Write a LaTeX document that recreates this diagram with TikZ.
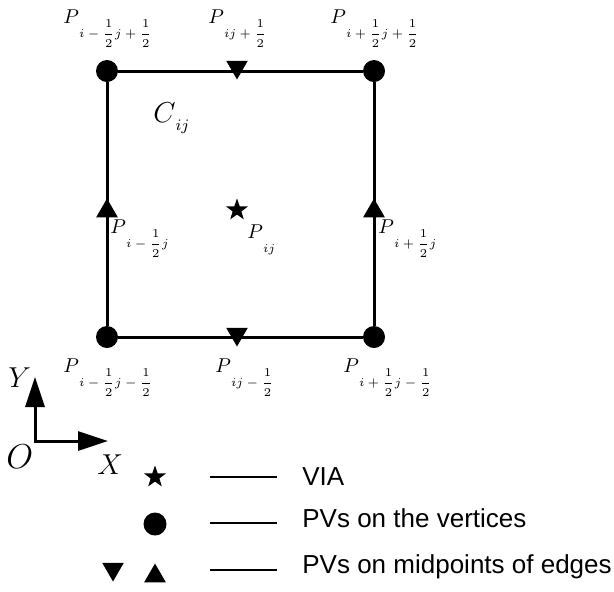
\documentclass[tikz,border=0pt]{standalone}
\usepackage{amsmath}
\usepackage{fontspec}
\setsansfont{Liberation Sans}
\usetikzlibrary{shapes.geometric,arrows.meta,calc}

\newcommand{\pv}[1]{$P\raisebox{-7pt}{\fontsize{6}{7}\selectfont$#1$}$}
\newcommand{\hf}{\dfrac{1}{2}}

\tikzset{
  vertex/.style={circle,fill=black,inner sep=0pt,minimum size=11pt},
  midup/.style={regular polygon,regular polygon sides=3,fill=black,inner sep=0pt,minimum size=12.5pt},
  middown/.style={midup,shape border rotate=180},
  via/.style={star,star points=5,star point ratio=2.5,fill=black,inner sep=0pt,minimum size=11.5pt},
  side/.style={line width=1.5pt},
  axis/.style={line width=1.5pt,{Triangle[length=15pt,width=9.5pt]}-{Triangle[length=15pt,width=9.5pt]}},
  plabel/.style={anchor=base west,inner sep=0pt,font=\fontsize{10}{12}\selectfont},
  axlabel/.style={anchor=base west,inner sep=0pt,font=\fontsize{14}{16}\selectfont},
  legline/.style={line width=1pt},
  legtext/.style={anchor=base west,inner sep=0pt,font=\sffamily\fontsize{13}{15}\selectfont}
}

\begin{document}
\begin{tikzpicture}[x=0.5pt,y=-0.5pt]
\useasboundingbox (0,0) rectangle (614,591);

% corners of the cell
\node[vertex] (vtl) at (107,71) {};
\node[vertex] (vtr) at (374,71) {};
\node[vertex] (vbl) at (107,337) {};
\node[vertex] (vbr) at (374,337) {};
\draw[side] (vtl) -- (vtr);
\draw[side] (vtr) -- (vbr);
\draw[side] (vbr) -- (vbl);
\draw[side] (vbl) -- (vtl);

% midpoints of the edges and the centre
\node[middown] (mt) at (237,67) {};
\node[middown] (mb) at (237,334) {};
\node[midup] (ml) at (107,211) {};
\node[midup] (mr) at (374,211) {};
\node[via] (cen) at (237,210) {};

% labels
\node[plabel] (ltl) at (63,23) {\pv{i-\hf j+\hf}};
\node[plabel] (ltm) at (208,23) {\pv{ij+\hf}};
\node[plabel] (ltr) at (330,23) {\pv{i+\hf j+\hf}};
\node[plabel] (lml) at (110,233) {\pv{i-\hf j}};
\node[plabel] (lcen) at (247,238) {\pv{ij}};
\node[plabel] (lmr) at (378,233) {\pv{i+\hf j}};
\node[plabel] (lbl) at (63,372) {\pv{i-\hf j-\hf}};
\node[plabel] (lbm) at (215,372) {\pv{ij-\hf}};
\node[plabel] (lbr) at (343,372) {\pv{i+\hf j-\hf}};
\node[anchor=base west,inner sep=0pt,font=\fontsize{15}{18}\selectfont] (cell) at (153,122) {$C\raisebox{-4pt}{\footnotesize$ij$}$};

% axes
\coordinate (O) at (35,441);
\coordinate (Ytip) at (35,377);
\coordinate (Xtip) at (108,441);
\draw[axis] (Ytip) -- (O) -- (Xtip);
\node[axlabel] (ly) at (8,387) {$Y$};
\node[axlabel,font=\fontsize{16}{18}\selectfont] (lo) at (6,468) {$O$};
\node[axlabel] (lx) at (97,474) {$X$};

% legend
\node[via] (kvia) at (155,477) {};
\node[vertex,minimum size=11.5pt] (kvert) at (155,524) {};
\node[middown] (kdown) at (113,569) {};
\node[midup] (kup) at (155,576) {};
\foreach \ly/\by/\txt [count=\k] in {477/485/VIA, 523/527/PVs on the vertices, 570/573/PVs on midpoints of edges} {
  \coordinate (ka\k) at (210,\ly);
  \coordinate (kb\k) at (277,\ly);
  \draw[legline] (ka\k) -- (kb\k);
  \node[legtext] (kt\k) at (302,\by) {\txt};
}
\end{tikzpicture}
\end{document}
